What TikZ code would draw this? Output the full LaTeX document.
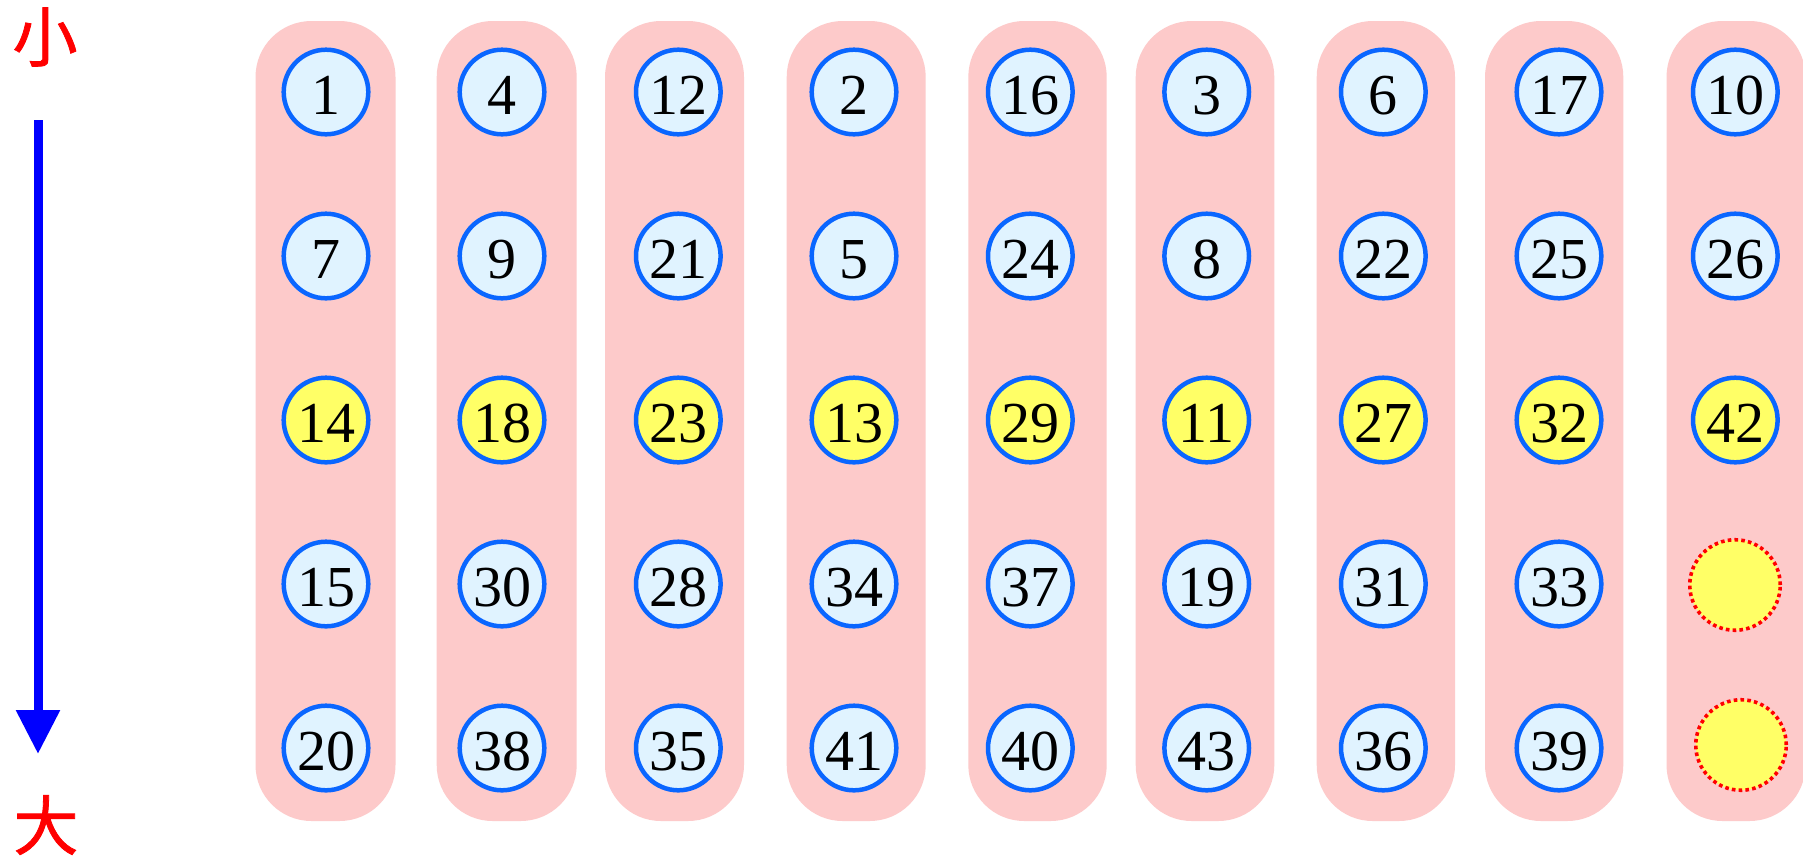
\documentclass[tikz,border=0pt]{standalone}
\usepackage{fontspec}
\setmainfont{Liberation Serif}
\newfontfamily\cjk[FakeBold=1.2]{Noto Sans CJK SC}
\usetikzlibrary{arrows.meta}
\definecolor{pillcol}{HTML}{FDCACA}
\definecolor{cfill}{HTML}{E0F3FF}
\definecolor{cline}{HTML}{0A66FF}
\definecolor{yel}{HTML}{FFFF66}
\definecolor{arrblue}{HTML}{0000FF}
\definecolor{redtxt}{HTML}{FF0000}
\tikzset{
  pill/.style={fill=pillcol, rounded corners=56},
  ball/.style={circle, draw=cline, line width=4.5, fill=cfill, minimum size=84.6, inner sep=0,
     font=\fontsize{58}{58}\selectfont, text height=45pt, text depth=0pt},
  hiball/.style={ball, fill=yel},
  emptyball/.style={circle, draw=redtxt, line width=3.6, dash pattern=on 3.6 off 3.2, fill=yel, minimum size=90.5, inner sep=0},
  cjklabel/.style={text=redtxt, font=\cjk\fontsize{65}{65}\selectfont, inner sep=0},
  axisarrow/.style={draw=arrblue, line width=9, -{Triangle[width=42, length=44]}}
}
\begin{document}
\begin{tikzpicture}[x=1pt, y=-1pt]
\useasboundingbox (0,0) rectangle (1803,855);
\clip (0,0) rectangle (1803,855);
\fill[white] (0,0) rectangle (1803,855);
% pills
\foreach \a/\b in {255.5/395.5, 436.7/576.7, 605/744, 786.7/925.7, 968.3/1106.7, 1135.7/1274.3, 1316.7/1455, 1485/1623.3, 1666.5/1805.5}
  \fill[pill] (\a,21) rectangle (\b,821);
% balls
\foreach \col/\x/\va/\vb/\vc/\vd/\ve in {
  1/326/1/7/14/15/20,
  2/502/4/9/18/30/38,
  3/678.3/12/21/23/28/35,
  4/854/2/5/13/34/41,
  5/1030.3/16/24/29/37/40,
  6/1206.7/3/8/11/19/43,
  7/1383.3/6/22/27/31/36,
  8/1559/17/25/32/33/39}{
  \node[ball]   (c\col-1) at (\x,92)  {\va};
  \node[ball]   (c\col-2) at (\x,256) {\vb};
  \node[hiball] (c\col-3) at (\x,420) {\vc};
  \node[ball]   (c\col-4) at (\x,584) {\vd};
  \node[ball]   (c\col-5) at (\x,748) {\ve};
}
\node[ball]      (c9-1) at (1735.3,92)  {10};
\node[ball]      (c9-2) at (1735.3,256) {26};
\node[hiball]    (c9-3) at (1735.3,420) {42};
\node[emptyball] (c9-4) at (1735,585) {};
\node[emptyball] (c9-5) at (1741,745) {};
% axis
\node[cjklabel] (small) at (45,37) {小};
\node[cjklabel] (big) at (46,825) {大};
\coordinate (atop) at (38,120);
\coordinate (abot) at (38,754);
\draw[axisarrow] (atop) -- (abot);
\end{tikzpicture}
\end{document}
